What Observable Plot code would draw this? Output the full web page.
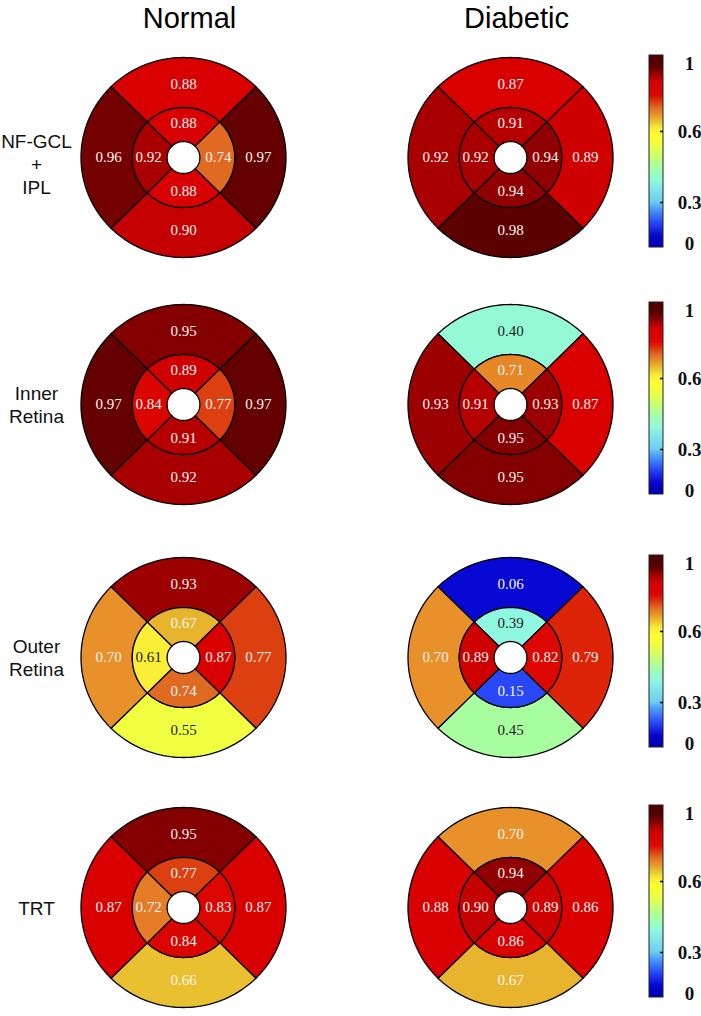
<!DOCTYPE html>
<html>
<head>
<meta charset="utf-8">
<script src="https://cdn.jsdelivr.net/npm/d3@7"></script>
<script src="https://cdn.jsdelivr.net/npm/@observablehq/plot@0.6"></script>
<style>
  html, body { margin: 0; padding: 0; background: #ffffff; }
  #chart svg { display: block; }
</style>
</head>
<body>
<div id="chart"></div>
<script>
// ---------------- data ----------------
const groups = ["Normal", "Diabetic"];
const layers = ["NF-GCL\n+\nIPL", "Inner\nRetina", "Outer\nRetina", "TRT"];
const quadrants = ["top", "right", "bottom", "left"];

// values per layer, ordered [top, right, bottom, left]
const normalOuter = [
  [0.88, 0.97, 0.90, 0.96],
  [0.95, 0.97, 0.92, 0.97],
  [0.93, 0.77, 0.55, 0.70],
  [0.95, 0.87, 0.66, 0.87]
];
const normalInner = [
  [0.88, 0.74, 0.88, 0.92],
  [0.89, 0.77, 0.91, 0.84],
  [0.67, 0.87, 0.74, 0.61],
  [0.77, 0.83, 0.84, 0.72]
];
const diabeticOuter = [
  [0.87, 0.89, 0.98, 0.92],
  [0.40, 0.87, 0.95, 0.93],
  [0.06, 0.79, 0.45, 0.70],
  [0.70, 0.86, 0.67, 0.88]
];
const diabeticInner = [
  [0.91, 0.94, 0.94, 0.92],
  [0.71, 0.93, 0.95, 0.91],
  [0.39, 0.82, 0.15, 0.89],
  [0.94, 0.89, 0.86, 0.90]
];
const colorbarTicks = [0, 0.3, 0.6, 1];
const colorbarTickLabels = ["0", "0.3", "0.6", "1"];

// ---------------- colour map (jet-like) ----------------
const cmapStops  = [0.00, 0.06, 0.15, 0.25, 0.30, 0.39, 0.45, 0.52, 0.58, 0.62, 0.66, 0.70, 0.74, 0.77, 0.81, 0.88, 0.90, 0.92, 0.95, 0.97, 1.00];
const cmapColors = ["#0000b8", "#0808d4", "#2848f8", "#4c9cf8", "#6cccf2", "#90f8e0", "#a8ffa0", "#e0ff50", "#ffff30", "#f8e838", "#e8c030", "#e8902a", "#e06a22", "#dd4010", "#dd0800", "#d80000", "#c40000", "#a80000", "#840000", "#640000", "#500000"];

// ---------------- layout ----------------
const W = 701, H = 1016;
const colX = [183, 510];
const rowY = [157, 404, 657, 907];
const R_OUT = 100, R_IN = 50, R_HOLE = 16, SX = 1.025;
const LABEL_R_OUT = 73, LABEL_R_IN = 34;
const quadAngle = {top: 90, right: 0, bottom: -90, left: 180};
const CB_X1 = 649, CB_X2 = 663, CB_LABEL_X = 689;

const tables = {Normal: [normalOuter, normalInner], Diabetic: [diabeticOuter, diabeticInner]};

const polys = [];
const labels = [];
layers.forEach((layer, i) => {
  groups.forEach((g, j) => {
    const cx = colX[j], cy = rowY[i];
    const [outer, inner] = tables[g];
    [["outer", outer[i], R_IN, R_OUT, LABEL_R_OUT], ["inner", inner[i], R_HOLE, R_IN, LABEL_R_IN]].forEach(([ring, vals, r0, r1, lr]) => {
      quadrants.forEach((q, k) => {
        const v = vals[k];
        const id = `${i}-${g}-${ring}-${q}`;
        const a0 = (quadAngle[q] - 45) * Math.PI / 180;
        const a1 = (quadAngle[q] + 45) * Math.PI / 180;
        const n = 48;
        for (let s = 0; s <= n; s++) {
          const a = a0 + (a1 - a0) * s / n;
          polys.push({id, v, x: cx + r1 * Math.cos(a) * SX, y: cy - r1 * Math.sin(a)});
        }
        for (let s = n; s >= 0; s--) {
          const a = a0 + (a1 - a0) * s / n;
          polys.push({id, v, x: cx + r0 * Math.cos(a) * SX, y: cy - r0 * Math.sin(a)});
        }
        const am = quadAngle[q] * Math.PI / 180;
        labels.push({v, x: cx + lr * Math.cos(am) * SX, y: cy - lr * Math.sin(am)});
      });
    });
  });
});

const isDark = v => v > 0.3 && v < 0.65;

// colour bars
const cbStrips = [], cbFrames = [], cbTickMarks = [], cbLabels = [];
rowY.forEach((cy, i) => {
  const pos = d3.scaleLinear().domain(colorbarTicks).range([cy + 86, cy + 45, cy - 26, cy - 94]);
  const top = cy - 102, bottom = cy + 90;
  for (let py = top; py < bottom; py++) {
    const v = Math.max(0, Math.min(1, pos.invert(py + 0.5)));
    cbStrips.push({v, y1: py, y2: py + 1});
  }
  cbFrames.push({y1: top, y2: bottom});
  colorbarTicks.forEach((t, k) => {
    if (t > 0 && t < 1) cbTickMarks.push({y: pos(t)});
    cbLabels.push({y: pos(t), text: colorbarTickLabels[k]});
  });
});

const serif = "'Liberation Serif', 'DejaVu Serif', serif";
const sans = "'Liberation Sans', Arial, Helvetica, sans-serif";

const chart = Plot.plot({
  width: W,
  height: H,
  margin: 0,
  x: {domain: [0, W], range: [0, W], axis: null},
  y: {domain: [0, H], range: [0, H], axis: null},
  color: {type: "linear", domain: cmapStops, range: cmapColors, interpolate: "rgb"},
  marks: [
    // sectors
    Plot.line(polys, {x: "x", y: "y", z: "id", fill: "v", stroke: "black", strokeWidth: 1.3, curve: "linear-closed"}),
    // values
    Plot.text(labels.filter(d => !isDark(d.v)), {x: "x", y: "y", text: d => d.v.toFixed(2), fill: "#fbf4f4", fontFamily: serif, fontSize: 15}),
    Plot.text(labels.filter(d => isDark(d.v)), {x: "x", y: "y", text: d => d.v.toFixed(2), fill: "#1c1c1c", fontFamily: serif, fontSize: 15}),
    // column titles
    Plot.text(groups, {x: (d, j) => colX[j] + 6, y: 18, text: d => d, fontFamily: sans, fontSize: 29, fill: "black"}),
    // row labels
    Plot.text(layers, {x: 36, y: (d, i) => rowY[i] + (i === 0 ? 6 : 0), text: d => d, fontFamily: sans, fontSize: 19, lineHeight: 1.2, fill: "#111"}),
    // colour bars
    Plot.rect(cbStrips, {x1: CB_X1, x2: CB_X2, y1: "y1", y2: "y2", fill: "v", shapeRendering: "crispEdges"}),
    Plot.rect(cbFrames, {x1: CB_X1, x2: CB_X2, y1: "y1", y2: "y2", fill: "none", stroke: "#222", strokeWidth: 1}),
    Plot.ruleY(cbTickMarks, {y: "y", x1: CB_X2 - 3, x2: CB_X2, stroke: "black", strokeWidth: 1.5}),
    Plot.text(cbLabels, {x: CB_LABEL_X, y: "y", text: "text", fontFamily: serif, fontSize: 19, fontWeight: "bold", fill: "#111"})
  ]
});

document.getElementById("chart").appendChild(chart);
</script>
</body>
</html>
